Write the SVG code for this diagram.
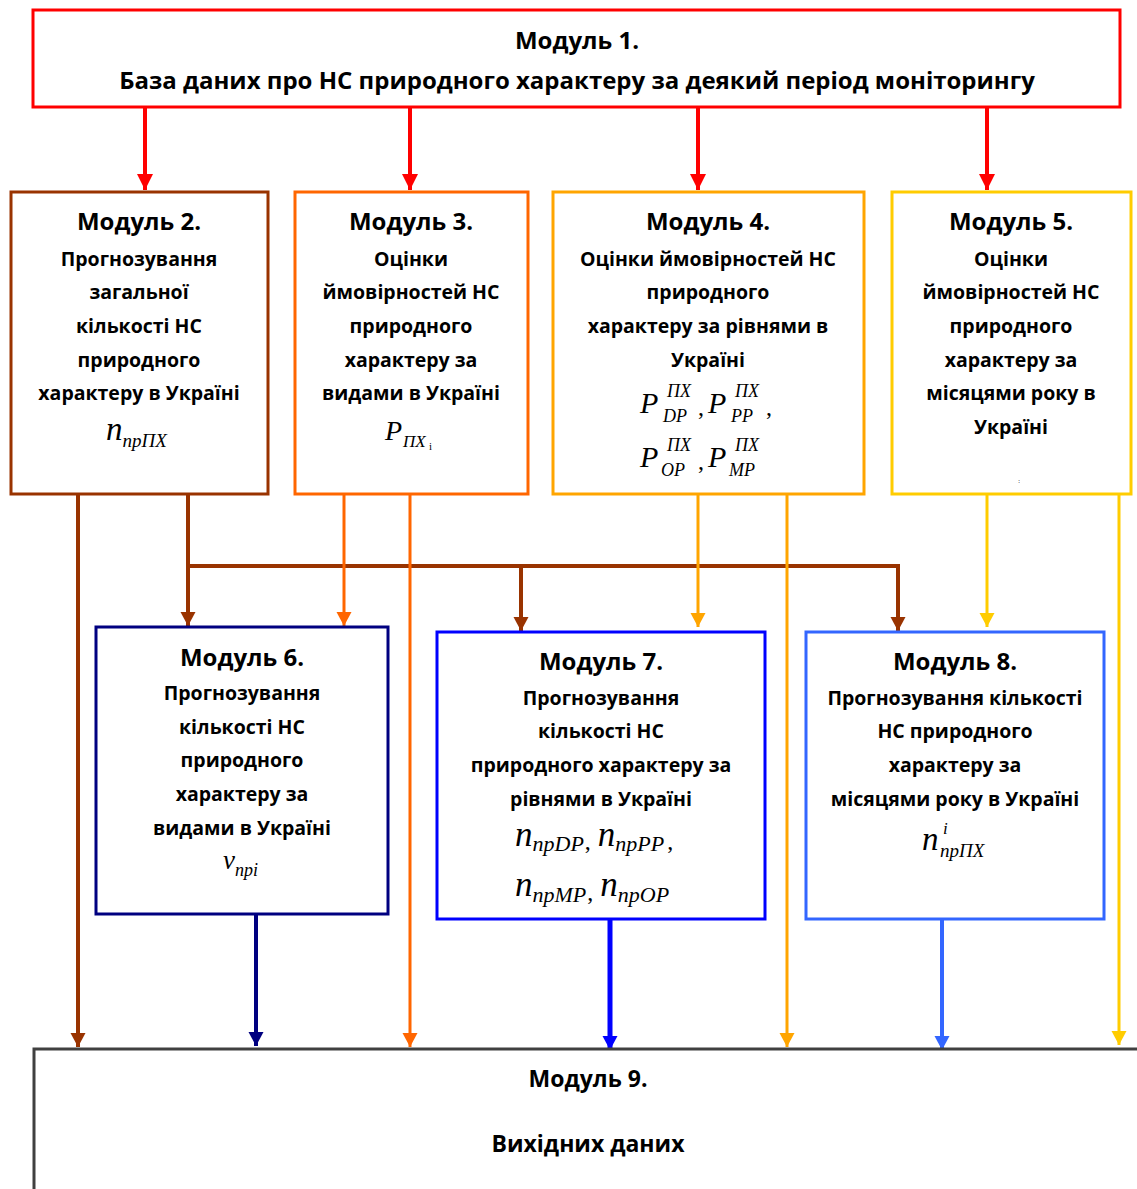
<svg xmlns="http://www.w3.org/2000/svg" width="1137" height="1189" viewBox="0 0 1137 1189">
<defs>
<style>
.t{font-family:"Open Sans","Liberation Sans",sans-serif;font-weight:bold;font-size:19.5px;fill:#000;text-anchor:middle}
.h{font-size:24px}
.f{font-family:"Liberation Serif","Times New Roman",serif;font-style:italic;fill:#000}
.box{fill:#fff;stroke-width:3}
.c{fill:none;stroke-linejoin:miter}
</style>
<marker id="aR" markerUnits="userSpaceOnUse" markerWidth="18" markerHeight="16" refX="16" refY="8" orient="auto"><path d="M0,0 L16,8 L0,16 Z" fill="#FF0000"/></marker>
<marker id="aB" markerUnits="userSpaceOnUse" markerWidth="16" markerHeight="16" refX="14" refY="8" orient="auto"><path d="M0,0.5 L14,8 L0,15.5 Z" fill="#993300"/></marker>
<marker id="aO" markerUnits="userSpaceOnUse" markerWidth="16" markerHeight="16" refX="14" refY="8" orient="auto"><path d="M0,0.5 L14,8 L0,15.5 Z" fill="#FF6600"/></marker>
<marker id="aA" markerUnits="userSpaceOnUse" markerWidth="16" markerHeight="16" refX="14" refY="8" orient="auto"><path d="M0,0.5 L14,8 L0,15.5 Z" fill="#FFA500"/></marker>
<marker id="aY" markerUnits="userSpaceOnUse" markerWidth="16" markerHeight="16" refX="14" refY="8" orient="auto"><path d="M0,0.5 L14,8 L0,15.5 Z" fill="#FFCC00"/></marker>
<marker id="aN" markerUnits="userSpaceOnUse" markerWidth="16" markerHeight="16" refX="14" refY="8" orient="auto"><path d="M0,0.5 L14,8 L0,15.5 Z" fill="#000080"/></marker>
<marker id="aL" markerUnits="userSpaceOnUse" markerWidth="16" markerHeight="16" refX="14" refY="8" orient="auto"><path d="M0,0.5 L14,8 L0,15.5 Z" fill="#0000FF"/></marker>
<marker id="aS" markerUnits="userSpaceOnUse" markerWidth="16" markerHeight="16" refX="14" refY="8" orient="auto"><path d="M0,0.5 L14,8 L0,15.5 Z" fill="#3366FF"/></marker>
</defs>
<rect width="1137" height="1189" fill="#fff"/>

<g id="connectors" class="c">
<g stroke="#FF0000" stroke-width="4">
<path d="M145,107 V190" marker-end="url(#aR)"/>
<path d="M410,107 V190" marker-end="url(#aR)"/>
<path d="M698,107 V190" marker-end="url(#aR)"/>
<path d="M987,107 V190" marker-end="url(#aR)"/>
</g>
<g stroke="#993300" stroke-width="4">
<path d="M78,494 V1047" marker-end="url(#aB)"/>
<path d="M188,494 V626" marker-end="url(#aB)"/>
<path d="M188,566 H898 V631" marker-end="url(#aB)"/>
<path d="M521,566 V631" marker-end="url(#aB)"/>
</g>
<g stroke="#FF6600" stroke-width="3">
<path d="M344,494 V626" marker-end="url(#aO)"/>
<path d="M410,494 V1047" marker-end="url(#aO)"/>
</g>
<g stroke="#FFA500" stroke-width="3">
<path d="M698,494 V627" marker-end="url(#aA)"/>
<path d="M787,494 V1047" marker-end="url(#aA)"/>
</g>
<g stroke="#FFCC00" stroke-width="3">
<path d="M987,494 V627" marker-end="url(#aY)"/>
<path d="M1119,494 V1045" marker-end="url(#aY)"/>
</g>
<path d="M256,914 V1046" stroke="#000080" stroke-width="4" marker-end="url(#aN)"/>
<path d="M610,919 V1050" stroke="#0000FF" stroke-width="5" marker-end="url(#aL)"/>
<path d="M942,919 V1050" stroke="#3366FF" stroke-width="4" marker-end="url(#aS)"/>
</g>

<g id="m1">
<rect class="box" x="33" y="10" width="1087" height="97" stroke="#FF0000"/>
<text class="t h" x="577" y="49">Модуль 1.</text>
<text class="t h" x="577" y="89">База даних про НС природного характеру за деякий період моніторингу</text>
</g>

<g id="m2">
<rect class="box" x="11" y="192" width="257" height="302" stroke="#993300"/>
<text class="t h" x="139" y="230">Модуль 2.</text>
<text class="t" x="139" y="266">Прогнозування</text>
<text class="t" x="139" y="299">загальної</text>
<text class="t" x="139" y="333">кількості НС</text>
<text class="t" x="139" y="367">природного</text>
<text class="t" x="139" y="400">характеру в Україні</text>
<text class="f" x="106" y="440"><tspan font-size="33">n</tspan><tspan font-size="19" dy="7">npПХ</tspan></text>
</g>

<g id="m3">
<rect class="box" x="295" y="192" width="233" height="302" stroke="#FF6600"/>
<text class="t h" x="411" y="230">Модуль 3.</text>
<text class="t" x="411" y="266">Оцінки</text>
<text class="t" x="411" y="299">ймовірностей НС</text>
<text class="t" x="411" y="333">природного</text>
<text class="t" x="411" y="367">характеру за</text>
<text class="t" x="411" y="400">видами в Україні</text>
<text class="f" x="385" y="440" font-size="28">P</text>
<text class="f" x="403" y="447" font-size="17">ПХ</text>
<text x="429" y="450" font-size="11" font-family="Liberation Serif,serif">i</text>
</g>

<g id="m4">
<rect class="box" x="553" y="192" width="311" height="302" stroke="#FFA500"/>
<text class="t h" x="708" y="230">Модуль 4.</text>
<text class="t" x="708" y="266">Оцінки ймовірностей НС</text>
<text class="t" x="708" y="299">природного</text>
<text class="t" x="708" y="333">характеру за рівнями в</text>
<text class="t" x="708" y="367">Україні</text>
<g class="f">
<text x="640" y="413" font-size="30">P</text>
<text x="667" y="397" font-size="18">ПХ</text>
<text x="663" y="422" font-size="18">DP</text>
<text x="698" y="415" font-size="24" font-style="normal">,</text>
<text x="708" y="413" font-size="30">P</text>
<text x="735" y="397" font-size="18">ПХ</text>
<text x="731" y="422" font-size="18">PP</text>
<text x="766" y="415" font-size="24" font-style="normal">,</text>
<text x="640" y="467" font-size="30">P</text>
<text x="667" y="451" font-size="18">ПХ</text>
<text x="661" y="476" font-size="18">OP</text>
<text x="698" y="469" font-size="24" font-style="normal">,</text>
<text x="708" y="467" font-size="30">P</text>
<text x="735" y="451" font-size="18">ПХ</text>
<text x="729" y="476" font-size="18">MP</text>
</g>
</g>

<g id="m5">
<rect class="box" x="892" y="192" width="239" height="302" stroke="#FFCC00"/>
<text class="t h" x="1011" y="230">Модуль 5.</text>
<text class="t" x="1011" y="266">Оцінки</text>
<text class="t" x="1011" y="299">ймовірностей НС</text>
<text class="t" x="1011" y="333">природного</text>
<text class="t" x="1011" y="367">характеру за</text>
<text class="t" x="1011" y="400">місяцями року в</text>
<text class="t" x="1011" y="434">Україні</text>
<text x="1019" y="483" font-size="6" font-family="Liberation Serif,serif" text-anchor="middle">:</text>
</g>

<g id="m6">
<rect class="box" x="96" y="627" width="292" height="287" stroke="#000080"/>
<text class="t h" x="242" y="666">Модуль 6.</text>
<text class="t" x="242" y="700">Прогнозування</text>
<text class="t" x="242" y="734">кількості НС</text>
<text class="t" x="242" y="767">природного</text>
<text class="t" x="242" y="801">характеру за</text>
<text class="t" x="242" y="835">видами в Україні</text>
<text class="f" x="223" y="869"><tspan font-size="27">v</tspan><tspan font-size="18" dy="7">npi</tspan></text>
</g>

<g id="m7">
<rect class="box" x="437" y="632" width="328" height="287" stroke="#0000FF"/>
<text class="t h" x="601" y="670">Модуль 7.</text>
<text class="t" x="601" y="705">Прогнозування</text>
<text class="t" x="601" y="738">кількості НС</text>
<text class="t" x="601" y="772">природного характеру за</text>
<text class="t" x="601" y="806">рівнями в Україні</text>
<text class="f" x="515" y="846"><tspan font-size="35">n</tspan><tspan font-size="22" dy="5">npDP</tspan><tspan font-size="24" font-style="normal" dy="-2" dx="1">,</tspan><tspan font-size="35" dy="-3" dx="7">n</tspan><tspan font-size="22" dy="5">npPP</tspan><tspan font-size="24" font-style="normal" dy="-2" dx="3">,</tspan></text>
<text class="f" x="515" y="896"><tspan font-size="35">n</tspan><tspan font-size="22" dy="6">npMP</tspan><tspan font-size="24" font-style="normal" dy="-2" dx="1">,</tspan><tspan font-size="35" dy="-4" dx="7">n</tspan><tspan font-size="22" dy="6">npOP</tspan></text>
</g>

<g id="m8">
<rect class="box" x="806" y="632" width="298" height="287" stroke="#3366FF"/>
<text class="t h" x="955" y="670">Модуль 8.</text>
<text class="t" x="955" y="705">Прогнозування кількості</text>
<text class="t" x="955" y="738">НС природного</text>
<text class="t" x="955" y="772">характеру за</text>
<text class="t" x="955" y="806">місяцями року в Україні</text>
<text class="f" x="922" y="850" font-size="33">n</text>
<text class="f" x="943" y="834" font-size="17">i</text>
<text class="f" x="940" y="857" font-size="19">npПХ</text>
</g>

<g id="m9">
<rect class="box" x="34" y="1049" width="1120" height="200" stroke="#404040" stroke-width="4"/>
<text class="t" x="588" y="1087" style="font-size:23px">Модуль 9.</text>
<text class="t" x="588" y="1152" style="font-size:23px">Вихідних даних</text>
</g>
</svg>
